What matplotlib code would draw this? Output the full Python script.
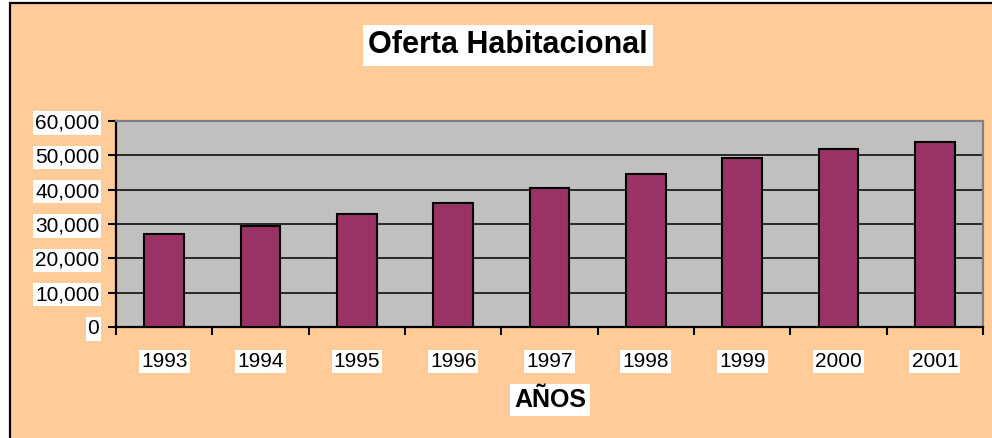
import matplotlib.pyplot as plt
from matplotlib.patches import Rectangle

# Oferta habitacional por año
anios = ['1993', '1994', '1995', '1996', '1997', '1998', '1999', '2000', '2001']
oferta = [27000, 29400, 32900, 36100, 40600, 44700, 49300, 51700, 54000]
yticks = [0, 10000, 20000, 30000, 40000, 50000, 60000]

plt.rcParams['font.family'] = ['Liberation Sans', 'DejaVu Sans']

fig = plt.figure(figsize=(9.92, 4.38), dpi=100, facecolor='white')

# fondo durazno con borde negro a la izquierda y arriba
fondo = Rectangle((10 / 992, -0.1), 1.2, (438 - 3) / 438 + 0.1, transform=fig.transFigure,
                  facecolor='#FFCC99', edgecolor='black', linewidth=1.6, zorder=-10)
fig.patches.append(fondo)

ax = fig.add_axes([116 / 992, 111 / 438, (983 - 116) / 992, (327 - 121) / 438])
ax.set_facecolor('#C0C0C0')

x = range(len(anios))
ax.bar(x, oferta, width=0.41, color='#993366', edgecolor='black', linewidth=1.5, zorder=3)

ax.set_xlim(-0.5, len(anios) - 0.5)
ax.set_ylim(0, 60000)
ax.set_yticks(yticks)
ax.set_yticklabels([f'{v:,}' for v in yticks], fontsize=15)
ax.yaxis.grid(True, color='black', linewidth=1.1, zorder=1)
ax.set_axisbelow(True)

ax.set_xticks(list(x))
ax.set_xticklabels(anios, fontsize=15)
ax.set_xticks([i - 0.5 for i in range(len(anios) + 1)], minor=True)
ax.tick_params(axis='x', which='major', length=0, pad=18)
ax.tick_params(axis='x', which='minor', length=6, width=1.5, direction='out')
ax.tick_params(axis='y', length=6, width=1.5, direction='out', pad=6)

for lbl in ax.get_xticklabels() + ax.get_yticklabels():
    lbl.set_bbox(dict(facecolor='white', edgecolor='none', pad=1.5))

for lado in ['left', 'bottom']:
    ax.spines[lado].set_color('black')
    ax.spines[lado].set_linewidth(1.6)
for lado in ['top', 'right']:
    ax.spines[lado].set_color('#808080')
    ax.spines[lado].set_linewidth(1.6)

fig.text(508 / 992, (438 - 45) / 438, 'Oferta Habitacional', fontsize=22, fontweight='bold',
         ha='center', va='center', bbox=dict(facecolor='white', edgecolor='none', pad=4))
fig.text(550 / 992, (438 - 400) / 438, 'AÑOS', fontsize=18, fontweight='bold',
         ha='center', va='center', bbox=dict(facecolor='white', edgecolor='none', pad=3))

fig.savefig('out.png', dpi=100, facecolor='white')
